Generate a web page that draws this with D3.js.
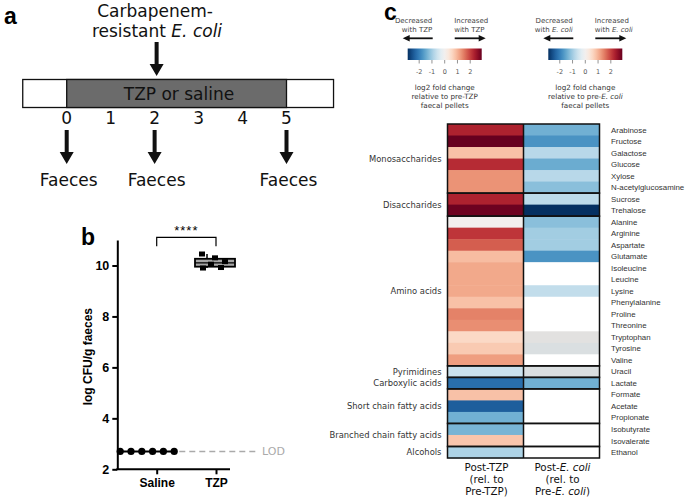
<!DOCTYPE html>
<html>
<head>
<meta charset="utf-8">
<script src="https://cdn.jsdelivr.net/npm/d3@7"></script>
<style>
  html, body { margin: 0; padding: 0; background: #fff; }
  svg { display: block; }
</style>
</head>
<body>
<svg id="fig" width="685" height="500"></svg>
<script>
// ---- data ----
const days = [0, 1, 2, 3, 4, 5];
const faecesDays = [0, 2, 5];
const inoculationDay = 2;

const cfuGroups = ["Saline", "TZP"];
const salineCFU = [2.7, 2.7, 2.7, 2.7, 2.7, 2.7];
const tzpCFU = [9.9, 9.92, 10.05, 10.15, 10.3, 10.45];
const cfuTicks = [2, 4, 6, 8, 10];
const lod = 2.7;

const metabolites = [
  "Arabinose", "Fructose", "Galactose", "Glucose", "Xylose", "N-acetylglucosamine",
  "Sucrose", "Trehalose",
  "Alanine", "Arginine", "Aspartate", "Glutamate", "Isoleucine", "Leucine", "Lysine",
  "Phenylalanine", "Proline", "Threonine", "Tryptophan", "Tyrosine", "Valine",
  "Uracil", "Lactate", "Formate", "Acetate", "Propionate", "Isobutyrate", "Isovalerate",
  "Ethanol"
];
const groupNames = [
  "Monosaccharides", "Disaccharides", "Amino acids", "Pyrimidines",
  "Carboxylic acids", "Short chain fatty acids", "Branched chain fatty acids", "Alcohols"
];
const groupSizes = [6, 2, 13, 1, 1, 3, 2, 1];

// log2 fold change, post-TZP vs pre-TZP
const tzpLog2FC = [
  2.3, 2.9, 0.85, 2.2, 1.3, 1.3,
  2.3, 2.85,
  0.0, 2.1, 1.75, 0.9, 1.1, 1.1, 1.1, 0.85, 1.45, 1.35, 0.55, 0.75, 1.2,
  -0.6, -2.2, 0.85, -2.4, -1.4, -1.35, 0.8,
  -0.9
];
// log2 fold change, post-E. coli vs pre-E. coli (null = no change shown)
const ecoliLog2FC = [
  -1.4, -1.75, -0.8, -1.45, -0.8, -1.2,
  -0.75, -2.9,
  -1.2, -1.0, -1.0, -1.75, null, null, -0.7, null, null, null, 0.0, -0.4, null,
  -0.4, -1.4, null, null, null, null, null,
  null
];
const ecoliGrey = ["Tryptophan", "Tyrosine", "Uracil"];
const legendTicks = [-2, -1, 0, 1, 2];
const columns = ["tzp", "ecoli"];

// ---- setup ----
const svg = d3.select("#fig");
const verdana = "'DejaVu Sans', Verdana, sans-serif";
const arial = "'Liberation Sans', Arial, sans-serif";

// panel letters
[["a", 4, 24], ["b", 81, 245], ["c", 384, 20]].forEach(([t, x, y]) => {
  svg.append("text").attr("x", x).attr("y", y).text(t)
    .attr("font-family", arial).attr("font-weight", "bold").attr("font-size", 23);
});

function downArrow(g, x, y1, y2) {
  const head = 12, hw = 7, sw = 2;
  g.append("path")
    .attr("d", `M${x - sw},${y1}L${x + sw},${y1}L${x + sw},${y2 - head}L${x + hw},${y2 - head}` +
      `L${x},${y2}L${x - hw},${y2 - head}L${x - sw},${y2 - head}Z`)
    .attr("fill", "#111");
}

// ---- panel a: timeline ----
const a = svg.append("g");
const dx = d3.scaleLinear().domain([0, 5]).range([66.7, 286.5]);

a.append("rect").attr("x", dx(-1)).attr("y", 79.5)
  .attr("width", dx(6.07) - dx(-1)).attr("height", 28)
  .attr("fill", "#fff").attr("stroke", "#111").attr("stroke-width", 1.3);
a.append("rect").attr("x", dx(0)).attr("y", 79.5)
  .attr("width", dx(5) - dx(0)).attr("height", 28)
  .attr("fill", "#6b6b6b").attr("stroke", "#111").attr("stroke-width", 1.3);
a.append("text").attr("x", 179).attr("y", 100).attr("text-anchor", "middle")
  .attr("font-family", verdana).attr("font-size", 17).attr("fill", "#111")
  .text("TZP or saline");

a.selectAll("text.day").data(days).join("text").attr("class", "day")
  .attr("x", d => dx(d)).attr("y", 124).attr("text-anchor", "middle")
  .attr("font-family", verdana).attr("font-size", 17).attr("fill", "#111")
  .text(d => d);

const t1 = a.append("text").attr("x", 155).attr("y", 17).attr("text-anchor", "middle")
  .attr("font-family", verdana).attr("font-size", 17).attr("fill", "#111");
t1.text("Carbapenem-");
const t2 = a.append("text").attr("x", 157).attr("y", 37).attr("text-anchor", "middle")
  .attr("font-family", verdana).attr("font-size", 17).attr("fill", "#111");
t2.append("tspan").text("resistant ");
t2.append("tspan").attr("font-style", "italic").text("E. coli");

downArrow(a, dx(inoculationDay) + 2, 42, 76);
faecesDays.forEach(d => {
  downArrow(a, dx(d), 130, 164);
  a.append("text").attr("x", dx(d) + 2).attr("y", 186).attr("text-anchor", "middle")
    .attr("font-family", verdana).attr("font-size", 17).attr("fill", "#111")
    .text("Faeces");
});

// ---- panel b: CFU ----
const b = svg.append("g");
const bx0 = 117.3, bx1 = 230;
const by = d3.scaleLinear().domain([2, 11]).range([469.3, 240]);
const bx = d3.scalePoint().domain(cfuGroups).range([156.7, 216]);

b.append("g").attr("transform", `translate(${bx0},0)`)
  .call(d3.axisLeft(by).tickValues(cfuTicks).tickSize(5).tickSizeOuter(0).tickPadding(3))
  .call(g => g.selectAll("path,line").attr("stroke", "#000").attr("stroke-width", 2))
  .call(g => g.selectAll("text").attr("font-family", arial).attr("font-weight", "bold")
    .attr("font-size", 12.5).attr("fill", "#000"));

b.append("g").attr("transform", `translate(0,${by(2)})`)
  .call(d3.axisBottom(bx).tickSize(5).tickPadding(4))
  .call(g => g.select(".domain").remove())
  .call(g => g.selectAll("line").attr("stroke", "#000").attr("stroke-width", 2))
  .call(g => g.selectAll("text").attr("font-family", arial).attr("font-weight", "bold")
    .attr("font-size", 12).attr("fill", "#000"));
b.append("line").attr("x1", bx0 - 1).attr("x2", bx1)
  .attr("y1", by(2)).attr("y2", by(2)).attr("stroke", "#000").attr("stroke-width", 2);

b.append("text")
  .attr("transform", `translate(92,${(by(2) + by(11)) / 2 + 2}) rotate(-90)`)
  .attr("text-anchor", "middle").attr("font-family", arial).attr("font-weight", "bold")
  .attr("font-size", 12).text("log CFU/g faeces");

// LOD
b.append("line").attr("x1", bx0 + 2).attr("x2", 258).attr("y1", by(lod)).attr("y2", by(lod))
  .attr("stroke", "#aaa").attr("stroke-width", 1.6).attr("stroke-dasharray", "6,4");
b.append("text").attr("x", 262).attr("y", by(lod) + 4).attr("font-family", verdana)
  .attr("font-size", 11).attr("fill", "#aaa").text("LOD");

// saline dots
b.selectAll("circle.sal").data(salineCFU).join("circle").attr("class", "sal")
  .attr("cx", (d, i) => bx("Saline") + (i - 2.5) * 10.8 - 9.5)
  .attr("cy", d => by(d)).attr("r", 3.6).attr("fill", "#000");
b.append("line").attr("x1", bx("Saline") - 36).attr("x2", bx("Saline") + 18)
  .attr("y1", by(lod)).attr("y2", by(lod)).attr("stroke", "#000").attr("stroke-width", 2);

// TZP box + dots
const sorted = tzpCFU.slice().sort(d3.ascending);
const q1 = d3.quantile(sorted, 0.25), q3 = d3.quantile(sorted, 0.75), med = d3.median(sorted);
const cx = bx("TZP") - 1, bw = 40;
b.append("line").attr("x1", cx - 8).attr("x2", cx - 8).attr("y1", by(d3.max(sorted))).attr("y2", by(d3.min(sorted)))
  .attr("stroke", "#000").attr("stroke-width", 1.5);
b.append("rect").attr("x", cx - bw / 2).attr("y", by(q3)).attr("width", bw).attr("height", by(q1) - by(q3))
  .attr("fill", "#a6a6a6").attr("stroke", "#000").attr("stroke-width", 1.8);
b.append("line").attr("x1", cx - bw / 2).attr("x2", cx + bw / 2).attr("y1", by(med)).attr("y2", by(med))
  .attr("stroke", "#000").attr("stroke-width", 1.2);
const tzpOffsets = [-12, 6, -4, 10, 0, -13];
b.selectAll("rect.tzp").data(tzpCFU).join("rect").attr("class", "tzp")
  .attr("x", (d, i) => cx + tzpOffsets[i] - 3).attr("y", d => by(d) - 2.5)
  .attr("width", 6).attr("height", 5).attr("fill", "#000");

// significance bracket
const bl = by(10.75), bt = by(11.1);
b.append("path").attr("d", `M${bx("Saline")},${bl}V${bt}H${bx("TZP")}V${bl}`)
  .attr("fill", "none").attr("stroke", "#000").attr("stroke-width", 1.2);
b.append("text").attr("x", (bx("Saline") + bx("TZP")) / 2).attr("y", bt - 2)
  .attr("text-anchor", "middle").attr("font-family", arial).attr("font-size", 13)
  .attr("letter-spacing", 1).text("****");

// ---- panel c: heatmap ----
const c = svg.append("g");
const color = d3.scaleDiverging(t => d3.interpolateRdBu(1 - t)).domain([-2.9, 0, 2.9]);

const hy = d3.scaleBand().domain(metabolites).range([124, 458]);
const hx = d3.scaleBand().domain(columns).range([447.5, 599.5]);

const cells = [];
metabolites.forEach((m, i) => {
  cells.push({ m, col: "tzp", v: tzpLog2FC[i] });
  cells.push({ m, col: "ecoli", v: ecoliLog2FC[i] });
});
function cellFill(d) {
  if (d.v === null) return "#fff";
  const base = color(d.v);
  if (d.col === "ecoli" && ecoliGrey.includes(d.m)) return d3.interpolateRgb(base, "#d9d9d9")(0.65);
  return base;
}
c.selectAll("rect.cell").data(cells).join("rect").attr("class", "cell")
  .attr("x", d => hx(d.col)).attr("y", d => hy(d.m))
  .attr("width", hx.bandwidth()).attr("height", hy.bandwidth() + 0.5)
  .attr("fill", cellFill);

// group boxes and labels
let start = 0;
groupNames.forEach((g, gi) => {
  const first = metabolites[start], last = metabolites[start + groupSizes[gi] - 1];
  const y0 = hy(first), y1 = hy(last) + hy.bandwidth();
  c.append("rect").attr("x", hx.range()[0]).attr("y", y0)
    .attr("width", hx.range()[1] - hx.range()[0]).attr("height", y1 - y0)
    .attr("fill", "none").attr("stroke", "#111").attr("stroke-width", 1.5);
  c.append("text").attr("x", 441.5).attr("y", (y0 + y1) / 2 + 3)
    .attr("text-anchor", "end").attr("font-family", verdana).attr("font-size", 8.4)
    .attr("fill", "#333").text(g);
  start += groupSizes[gi];
});
c.append("line").attr("x1", hx("ecoli")).attr("x2", hx("ecoli"))
  .attr("y1", hy.range()[0]).attr("y2", hy.range()[1])
  .attr("stroke", "#111").attr("stroke-width", 1.5);

c.selectAll("text.row").data(metabolites).join("text").attr("class", "row")
  .attr("x", 611).attr("y", d => hy(d) + hy.bandwidth() / 2 + 2.8)
  .attr("font-family", arial).attr("font-size", 7.9).attr("fill", "#333").text(d => d);

// column labels
const colLabels = [
  [["Post-TZP"], ["(rel. to"], ["Pre-TZP)"]],
  [["Post-", "E. coli"], ["(rel. to"], ["Pre-", "E. coli", ")"]]
];
columns.forEach((col, ci) => {
  colLabels[ci].forEach((parts, li) => {
    const t = c.append("text").attr("x", hx(col) + hx.bandwidth() / 2 + 1)
      .attr("y", 470.5 + li * 12.3).attr("text-anchor", "middle")
      .attr("font-family", verdana).attr("font-size", 10.3).attr("fill", "#111");
    parts.forEach(p => t.append("tspan").attr("font-style", p === "E. coli" ? "italic" : null).text(p));
  });
});

// colour legends
const defs = svg.append("defs");
const grad = defs.append("linearGradient").attr("id", "rdbu");
d3.range(0, 1.0001, 0.05).forEach(t => {
  grad.append("stop").attr("offset", t).attr("stop-color", color(-2.9 + 5.8 * t));
});

function legend(x0, x1, decLines, incLines, capLines) {
  const lx = d3.scaleLinear().domain([-2.9, 2.9]).range([x0, x1]);
  const g = c.append("g");
  g.append("rect").attr("x", x0).attr("y", 48.5).attr("width", x1 - x0).attr("height", 11.5)
    .attr("fill", "url(#rdbu)");
  g.selectAll("line.tk").data(legendTicks).join("line").attr("class", "tk")
    .attr("x1", d => lx(d)).attr("x2", d => lx(d)).attr("y1", 60).attr("y2", 63.5)
    .attr("stroke", "#777").attr("stroke-width", 0.8);
  g.selectAll("text.tk").data(legendTicks).join("text").attr("class", "tk")
    .attr("x", d => lx(d)).attr("y", 73.5).attr("text-anchor", "middle")
    .attr("font-family", verdana).attr("font-size", 6.5).attr("fill", "#555")
    .text(d => d);

  const cx = (x0 + x1) / 2;
  const arrowY = 38.3;
  const mk = (xa, xb) => {
    const dir = Math.sign(xb - xa);
    g.append("line").attr("x1", xa).attr("x2", xb - dir * 5).attr("y1", arrowY).attr("y2", arrowY)
      .attr("stroke", "#111").attr("stroke-width", 1.8);
    g.append("path").attr("d", `M${xb},${arrowY}L${xb - dir * 7},${arrowY - 3.2}L${xb - dir * 7},${arrowY + 3.2}Z`)
      .attr("fill", "#111");
  };
  mk(cx - 12, cx - 42);
  mk(cx + 10, cx + 41);

  const textLines = (lines, x, anchor) => lines.forEach((parts, li) => {
    const t = g.append("text").attr("x", x).attr("y", 22.5 + li * 9.2).attr("text-anchor", anchor)
      .attr("font-family", verdana).attr("font-size", 7).attr("fill", "#444");
    parts.forEach(p => t.append("tspan").attr("font-style", p === "E. coli" ? "italic" : null).text(p));
  });
  textLines(decLines, cx - 12.5, "end");
  textLines(incLines, cx + 9.5, "start");
  capLines.forEach((parts, li) => {
    const t = g.append("text").attr("x", cx).attr("y", 90 + li * 9.2).attr("text-anchor", "middle")
      .attr("font-family", verdana).attr("font-size", 7.2).attr("fill", "#333");
    parts.forEach(p => t.append("tspan").attr("font-style", p === "E. coli" ? "italic" : null).text(p));
  });
}
legend(407.7, 481.7,
  [["Decreased"], ["with TZP"]], [["Increased"], ["with TZP"]],
  [["log2 fold change"], ["relative to pre-TZP"], ["faecal pellets"]]);
legend(548.3, 622.3,
  [["Decreased"], ["with ", "E. coli"]], [["Increased"], ["with ", "E. coli"]],
  [["log2 fold change"], ["relative to pre-", "E. coli"], ["faecal pellets"]]);
</script>
</body>
</html>
